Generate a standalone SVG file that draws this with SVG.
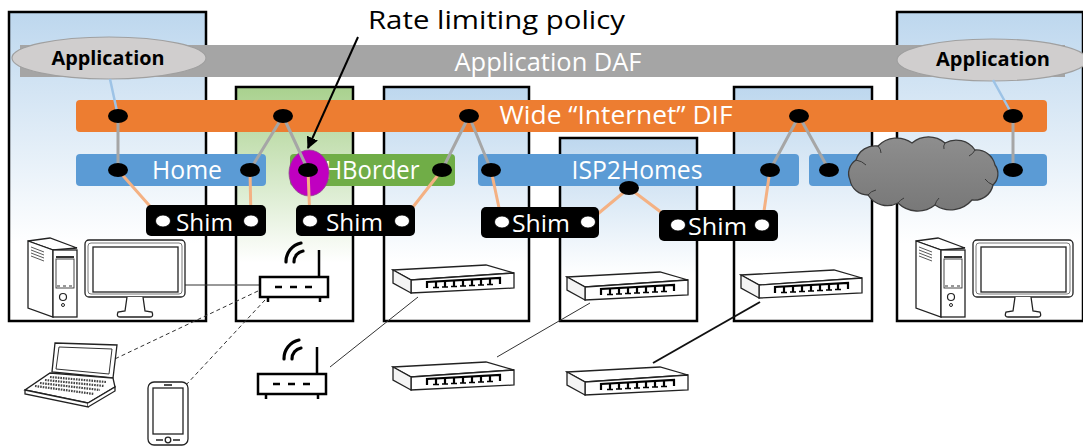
<svg xmlns="http://www.w3.org/2000/svg" xmlns:xlink="http://www.w3.org/1999/xlink" width="1083" height="446" viewBox="0 0 1083 446">
  <style>
    .box { stroke: #000; stroke-width: 2.5; }
    .lbl { font-family: "Open Sans", "Liberation Sans", sans-serif; fill: #fff; }
    .app { font-family: "Open Sans", "Liberation Sans", sans-serif; font-weight: bold; font-size: 19px; fill: #000; }
    .gray { stroke: #A6A6A6; stroke-width: 3; fill: none; }
    .peach { stroke: #F4B183; stroke-width: 3; fill: none; }
    .sky { stroke: #9DC3E6; stroke-width: 2.5; fill: none; }
    .dot { fill: #000; }
    .wdot { fill: #fff; stroke: #000; stroke-width: 0.8; }
    .shim { fill: #000; }
    .dev { fill: #fff; stroke: #222; stroke-width: 1.3; }
    .wire { stroke: #333; stroke-width: 1; fill: none; }
    .dash { stroke: #333; stroke-width: 1; stroke-dasharray: 4 3; fill: none; }
  </style>
  <defs>
    <linearGradient id="gBlue" x1="0" y1="0" x2="0" y2="1">
      <stop offset="0" stop-color="#BDD7EE"/>
      <stop offset="0.75" stop-color="#FFFFFF"/>
    </linearGradient>
    <linearGradient id="gGreen" x1="0" y1="0" x2="0" y2="1">
      <stop offset="0" stop-color="#A9D18E"/>
      <stop offset="0.75" stop-color="#FFFFFF"/>
    </linearGradient>
    <linearGradient id="gCloud" x1="0" y1="0" x2="0" y2="1">
      <stop offset="0" stop-color="#8E8E8E"/>
      <stop offset="1" stop-color="#787878"/>
    </linearGradient>
    <marker id="arrow" viewBox="0 0 10 10" refX="9" refY="5" markerWidth="6" markerHeight="6" orient="auto" markerUnits="strokeWidth">
      <path d="M0,0 L10,5 L0,10 z" fill="#000"/>
    </marker>

    <!-- flat 8-port switch, local size about 121 x 28 -->
    <g id="switch">
      <polygon points="0,5 93,0 121,8 18,15" class="dev"/>
      <polygon points="18,15 121,8 121,23 18,28" class="dev"/>
      <polygon points="0,5 18,15 18,28 0,18" fill="#f4f4f4" stroke="#222" stroke-width="1.3"/>
      <path d="M34,23 L34,17 L107,13 L107,19" fill="none" stroke="#000" stroke-width="2.2"/>
      <path d="M43,16.5 v6 M52,16 v6 M61,15.5 v6 M70,15 v6 M79,14.5 v6 M88,14 v6 M97,13.5 v6" fill="none" stroke="#000" stroke-width="2.2"/>
      <path d="M40,22.5 h6 M49,22 h6 M58,21.5 h6 M67,21 h6 M76,20.5 h6 M85,20 h6 M94,19.5 h6" fill="none" stroke="#000" stroke-width="1.5"/>
    </g>

    <!-- wifi router, local origin at top-left of body -->
    <g id="router">
      <rect x="0" y="0" width="68" height="20" fill="#fff" stroke="#000" stroke-width="2.5"/>
      <path d="M15,10 h7 M30,10 h7 M45,10 h7" stroke="#000" stroke-width="2.5"/>
      <path d="M8,20 v5 M60,20 v5" stroke="#000" stroke-width="2.5"/>
      <path d="M59,0 V-27" stroke="#000" stroke-width="2.5"/>
      <path d="M26,-15 A19,19 0 0 1 41,-34" fill="none" stroke="#000" stroke-width="3.2" stroke-linecap="round"/>
      <path d="M34,-15 A11,11 0 0 1 43,-26" fill="none" stroke="#000" stroke-width="3.2" stroke-linecap="round"/>
    </g>

    <!-- desktop computer: tower and monitor -->
    <g id="pc">
      <polygon points="28,241 50,238 77,248 53,250" class="dev"/>
      <polygon points="28,241 53,250 53,317 28,308" class="dev"/>
      <rect x="53" y="250" width="24" height="67" class="dev"/>
      <path d="M31,247 l13,5 M31,250 l13,5 M31,253 l13,5 M31,256 l13,5" stroke="#444" stroke-width="0.9"/>
      <path d="M56,257 h18" stroke="#000" stroke-width="1.6"/>
      <rect x="56" y="259" width="18" height="29" fill="none" stroke="#333" stroke-width="0.9"/>
      <path d="M57,286 h3 M63,286 h3 M69,286 h3" stroke="#333" stroke-width="1"/>
      <circle cx="63" cy="297" r="3.5" fill="none" stroke="#222" stroke-width="1.2"/>
      <circle cx="63" cy="305" r="1.5" fill="none" stroke="#222" stroke-width="1"/>
      <rect x="85" y="240" width="100" height="57" rx="4" class="dev"/>
      <rect x="88" y="243" width="94" height="51" rx="3" fill="none" stroke="#555" stroke-width="0.8"/>
      <rect x="93" y="247" width="85" height="45" fill="#fff" stroke="#222" stroke-width="1.3"/>
      <path d="M127,297 L125,311 L118,312 Q116,317 120,317 L150,317 Q154,317 152,312 L145,311 L143,297" class="dev"/>
    </g>
  </defs>

  <!-- enclosing systems -->
  <g id="systems">
    <rect id="sys-home-pc" x="9" y="12" width="197" height="309" fill="url(#gBlue)" class="box"/>
    <rect id="sys-hborder" x="236" y="87" width="117" height="234" fill="url(#gGreen)" class="box"/>
    <rect id="sys-isp1" x="384" y="87" width="145" height="234" fill="url(#gBlue)" class="box"/>
    <rect id="sys-isp2" x="560" y="138" width="137" height="183" fill="url(#gBlue)" class="box"/>
    <rect id="sys-isp3" x="734" y="87" width="138" height="234" fill="url(#gBlue)" class="box"/>
    <rect id="sys-remote-pc" x="897" y="12" width="186" height="309" fill="url(#gBlue)" class="box"/>
  </g>

  <!-- application DAF -->
  <g id="daf">
    <rect x="20" y="45" width="1045" height="32" fill="#A5A5A5"/>
    <text x="548" y="71" text-anchor="middle" class="lbl" font-size="25" fill="#F2F2F2" textLength="187" lengthAdjust="spacingAndGlyphs">Application DAF</text>
  </g>

  <g id="app-left">
    <ellipse cx="109" cy="58" rx="97" ry="21" fill="#D0CECE" stroke="#A0A0A0" stroke-width="1.2"/>
    <text x="108" y="65" text-anchor="middle" class="app" textLength="113" lengthAdjust="spacingAndGlyphs">Application</text>
  </g>
  <g id="app-right">
    <ellipse cx="992" cy="60" rx="95" ry="21" fill="#D0CECE" stroke="#A0A0A0" stroke-width="1.2"/>
    <text x="993" y="66" text-anchor="middle" class="app" textLength="114" lengthAdjust="spacingAndGlyphs">Application</text>
  </g>

  <!-- wide internet DIF -->
  <g id="internet-dif">
    <rect x="76" y="100" width="971" height="32" rx="4" fill="#ED7D31"/>
    <text x="616" y="124" text-anchor="middle" class="lbl" font-size="25" textLength="233" lengthAdjust="spacingAndGlyphs">Wide “Internet” DIF</text>
  </g>

  <!-- lower DIFs -->
  <g id="home-dif">
    <rect x="76" y="154" width="190" height="32" rx="4" fill="#5B9BD5"/>
    <text x="187" y="179" text-anchor="middle" class="lbl" font-size="25" textLength="70" lengthAdjust="spacingAndGlyphs">Home</text>
  </g>
  <g id="hborder-dif">
    <rect x="290" y="154" width="165" height="32" rx="4" fill="#70AD47"/>
    <text x="372" y="179" text-anchor="middle" class="lbl" font-size="25" textLength="95" lengthAdjust="spacingAndGlyphs">HBorder</text>
  </g>
  <g id="isp2homes-dif">
    <rect x="478" y="154" width="321" height="32" rx="4" fill="#5B9BD5"/>
    <text x="637" y="179" text-anchor="middle" class="lbl" font-size="25" textLength="131" lengthAdjust="spacingAndGlyphs">ISP2Homes</text>
  </g>
  <g id="remote-dif">
    <rect x="809" y="154" width="238" height="32" rx="4" fill="#5B9BD5"/>
  </g>

  <!-- rate limiting policy marker -->
  <g id="policy">
    <ellipse cx="309" cy="173" rx="20" ry="23" fill="#C000C0" stroke="#8a4a8a" stroke-width="0.8"/>
  </g>

  <!-- connectors between layers -->
  <g id="connectors">
    <path class="sky" d="M110,79 L118,116 M993,80 L1013,116"/>
    <path class="gray" d="M118,116 L118,170 M283,116 L250,170 M283,116 L308,170 M469,116 L442,170 M469,116 L491,170 M799,116 L770,170 M799,116 L829,170 M1013,116 L1013,170"/>
    <path class="peach" d="M118,170 L163,221 M250,170 L251,221 M308,170 L310,221 M442,170 L402,221 M491,170 L502,222 M629,188 L588,222 M629,188 L678,225 M770,170 L762,225"/>
    <path d="M358,37 L308,148" stroke="#000" stroke-width="2" fill="none" marker-end="url(#arrow)"/>
  </g>

  <!-- IPC process endpoints -->
  <g id="ipcps">
    <ellipse class="dot" cx="118" cy="116" rx="10" ry="7"/>
    <ellipse class="dot" cx="283" cy="116" rx="10" ry="7"/>
    <ellipse class="dot" cx="469" cy="116" rx="10" ry="7"/>
    <ellipse class="dot" cx="799" cy="116" rx="10" ry="7"/>
    <ellipse class="dot" cx="1013" cy="116" rx="10" ry="7"/>
    <ellipse class="dot" cx="118" cy="170" rx="10" ry="7"/>
    <ellipse class="dot" cx="250" cy="170" rx="10" ry="7"/>
    <ellipse class="dot" cx="308" cy="170" rx="10" ry="7"/>
    <ellipse class="dot" cx="442" cy="170" rx="10" ry="7"/>
    <ellipse class="dot" cx="491" cy="170" rx="10" ry="7"/>
    <ellipse class="dot" cx="629" cy="188" rx="10" ry="7"/>
    <ellipse class="dot" cx="770" cy="170" rx="10" ry="7"/>
    <ellipse class="dot" cx="829" cy="170" rx="10" ry="7"/>
    <ellipse class="dot" cx="1013" cy="170" rx="10" ry="7"/>
  </g>

  <!-- provider network cloud -->
  <g id="cloud">
    <path d="M856,160 A20,20 0 0 1 878,146 A26,26 0 0 1 912,143 A25,25 0 0 1 945,143 A23,23 0 0 1 975,150 A19,19 0 0 1 995,165 A15,15 0 0 1 993,185 A19,19 0 0 1 972,200 A28,28 0 0 1 935,205 A28,28 0 0 1 898,203 A23,23 0 0 1 868,195 A18,18 0 0 1 850,180 A16,16 0 0 1 856,160 Z" fill="url(#gCloud)" stroke="#3a3a3a" stroke-width="1.3"/>
    <path d="M856,160 q6,1 10,5 M878,146 q3,3 3,7 M945,143 q-2,3 -1,6 M975,150 q-2,4 -6,6 M993,185 q-5,-2 -8,-6 M935,205 q1,-4 4,-7 M898,203 q2,-3 6,-5 M868,195 q3,-4 8,-5" fill="none" stroke="#3a3a3a" stroke-width="1"/>
  </g>

  <!-- shim DIFs -->
  <g id="shim-1">
    <rect class="shim" x="146" y="205" width="120" height="31" rx="5"/>
    <text x="176" y="231" class="lbl" font-size="24" textLength="57" lengthAdjust="spacingAndGlyphs">Shim</text>
    <ellipse class="wdot" cx="163" cy="221" rx="7.5" ry="6"/>
    <ellipse class="wdot" cx="251" cy="221" rx="7.5" ry="6"/>
  </g>
  <g id="shim-2">
    <rect class="shim" x="296" y="205" width="119" height="31" rx="5"/>
    <text x="326" y="231" class="lbl" font-size="24" textLength="57" lengthAdjust="spacingAndGlyphs">Shim</text>
    <ellipse class="wdot" cx="310" cy="221" rx="7.5" ry="6"/>
    <ellipse class="wdot" cx="402" cy="221" rx="7.5" ry="6"/>
  </g>
  <g id="shim-3">
    <rect class="shim" x="481" y="207" width="118" height="31" rx="5"/>
    <text x="512" y="232" class="lbl" font-size="24" textLength="58" lengthAdjust="spacingAndGlyphs">Shim</text>
    <ellipse class="wdot" cx="502" cy="222" rx="7.5" ry="6"/>
    <ellipse class="wdot" cx="588" cy="222" rx="7.5" ry="6"/>
  </g>
  <g id="shim-4">
    <rect class="shim" x="659" y="210" width="119" height="31" rx="5"/>
    <text x="688" y="235" class="lbl" font-size="24" textLength="59" lengthAdjust="spacingAndGlyphs">Shim</text>
    <ellipse class="wdot" cx="678" cy="225" rx="7.5" ry="6"/>
    <ellipse class="wdot" cx="762" cy="225" rx="7.5" ry="6"/>
  </g>

  <!-- policy callout -->
  <g id="policy-label">
    <text x="368" y="29" font-family="'Open Sans', 'Liberation Sans', sans-serif" font-size="26" fill="#000" textLength="257" lengthAdjust="spacingAndGlyphs">Rate limiting policy</text>
  </g>

  <!-- physical links -->
  <g id="links">
    <path class="wire" d="M185,285 L259,285"/>
    <path class="dash" d="M258,291 L100,366"/>
    <path class="dash" d="M265,300 L172,400"/>
    <path class="wire" d="M330,367 L418,297"/>
    <path class="wire" d="M590,303 L497,357"/>
    <path d="M760,302 L653,363" stroke="#111" stroke-width="2" fill="none"/>
  </g>

  <!-- physical devices -->
  <g id="pc-home"><use xlink:href="#pc"/></g>
  <g id="pc-remote"><use xlink:href="#pc" transform="translate(888,0)"/></g>
  <g id="router-home"><use xlink:href="#router" transform="translate(260,277)"/></g>
  <g id="router-spare"><use xlink:href="#router" transform="translate(258,374)"/></g>
  <g id="switch-isp1"><use xlink:href="#switch" transform="translate(393,265)"/></g>
  <g id="switch-isp2"><use xlink:href="#switch" transform="translate(567,272)"/></g>
  <g id="switch-isp3"><use xlink:href="#switch" transform="translate(741,270)"/></g>
  <g id="switch-a"><use xlink:href="#switch" transform="translate(393,362)"/></g>
  <g id="switch-b"><use xlink:href="#switch" transform="translate(567,367)"/></g>

  <g id="laptop">
    <polygon points="55,343 117,345 113,378 52,372" class="dev"/>
    <polygon points="59,347 112,349 109,374 56,369" fill="#fff" stroke="#333" stroke-width="1"/>
    <polygon points="50,373 113,378 115,387 88,403 25,390" class="dev"/>
    <polygon points="25,390 88,403 88,407 25,394" class="dev"/>
    <path d="M88,403 L115,387 L115,391 L88,407" class="dev"/>
    <path d="M50,377 L106,382 M45,380 L104,386 M40,383 L100,390 M35,386 L94,394" stroke="#444" stroke-width="2.2" stroke-dasharray="1.6 1"/>
    <rect x="48" y="392" width="14" height="4" fill="none" stroke="#444" stroke-width="0.8" transform="skewX(-10)"/>
  </g>

  <g id="phone">
    <rect x="148" y="382" width="40" height="63" rx="6" class="dev" stroke-width="1.6"/>
    <rect x="153" y="388" width="30" height="46" fill="#fff" stroke="#222" stroke-width="1.3"/>
    <path d="M164,385 h8" stroke="#222" stroke-width="1.6"/>
    <circle cx="168" cy="440" r="2.8" fill="none" stroke="#222" stroke-width="1.3"/>
    <path d="M156,440 h7 M173,440 h7" stroke="#222" stroke-width="1.6"/>
  </g>
</svg>
